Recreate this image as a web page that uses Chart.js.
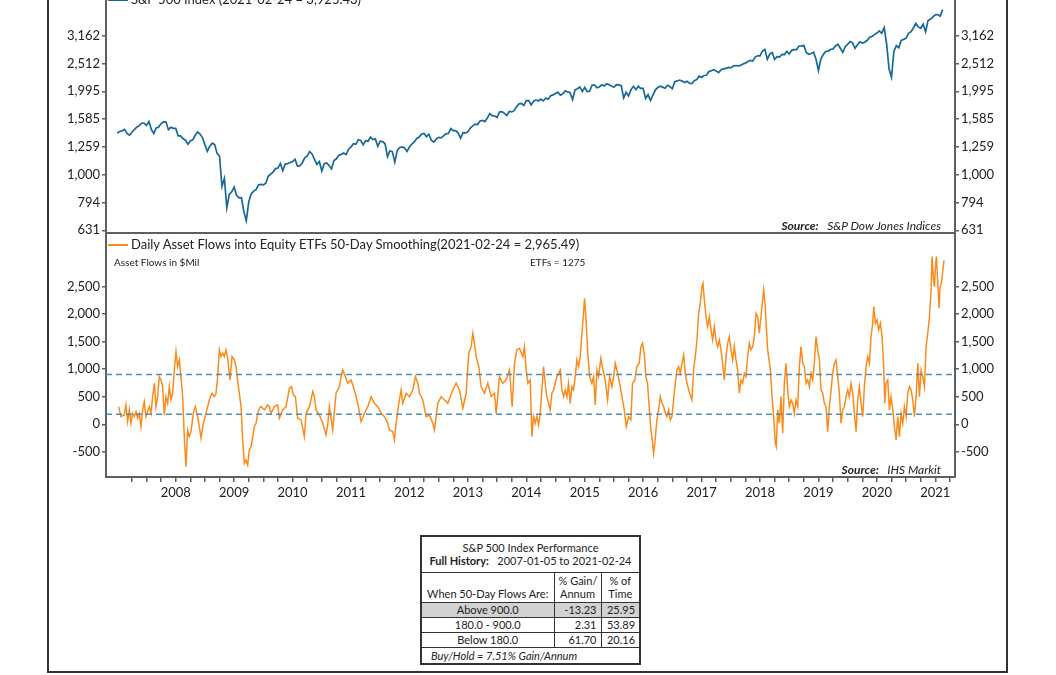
<!DOCTYPE html>
<html>
<head>
<meta charset="utf-8">
<script src="https://cdn.jsdelivr.net/npm/chart.js@4.4.1/dist/chart.umd.min.js"></script>
<style>
body{margin:0;width:1056px;height:675px;position:relative;overflow:hidden;background:#fff;font-family:Lato,sans-serif;color:#222}
.frame{position:absolute;left:47px;top:-20px;width:961px;height:693px;border:2px solid #333;box-sizing:border-box}
canvas{position:absolute;left:0}
.leg{position:absolute;left:108px;font-size:13px;line-height:16px;white-space:nowrap}
.leg i{display:inline-block;width:20px;height:2px;vertical-align:middle;margin:0 3px 2px 0}
.note{position:absolute;font-size:10px;line-height:13px;white-space:nowrap}
.src{position:absolute;right:115px;font-size:12px;line-height:14px;font-style:italic;white-space:nowrap}
#perf{position:absolute;left:420px;top:535px;width:219px;border-collapse:collapse;table-layout:fixed;font-size:11px;line-height:13px;color:#222;border:2px solid #333}
#perf td{border:1px solid #333;padding:0 4px;text-align:center;white-space:nowrap}
#perf td.n{text-align:right}
#perf tr.hi td{background:#d2d2d2}
#perf td.foot{text-align:left;font-style:italic;padding-left:9px}
</style>
</head>
<body>
<div class="frame"></div>
<canvas id="top" width="1056" height="249" style="top:-12px"></canvas>
<canvas id="bot" width="1056" height="284" style="top:233px"></canvas>

<div class="leg" style="top:-9px"><i style="background:#16699a"></i>S&amp;P 500 Index (2021-02-24 = 3,925.43)</div>
<div class="src" style="top:219px"><b>Source:</b>&nbsp;&nbsp; S&amp;P Dow Jones Indices</div>
<div class="leg" style="top:236px"><i style="background:#fb8c1c"></i>Daily Asset Flows into Equity ETFs 50-Day Smoothing(2021-02-24 = 2,965.49)</div>
<div class="note" style="left:114px;top:256px">Asset Flows in $Mil</div>
<div class="note" style="left:530px;top:256px">ETFs = 1275</div>
<div class="src" style="top:463px"><b>Source:</b>&nbsp;&nbsp; IHS Markit</div>

<table id="perf">
<colgroup><col style="width:133px"><col style="width:47px"><col style="width:39px"></colgroup>
<tbody id="perfBody"></tbody>
</table>

<script>
// S&P 500, one value every half month starting Jan 2007
const spStart = 2007.0
const spValues = [
1410,1431,1438,1456,1407,1387,1421,1453,1482,1501,1531,1533,1503,1552,1455,1406,1474,1484,1527,1548,1549,1452,1481,1468,
1468,1380,1379,1349,1331,1288,1323,1334,1386,1424,1400,1360,1280,1214,1267,1298,1283,1193,1165,908,969,760,850,868,
903,843,826,827,735,683,798,852,873,883,919,923,919,932,987,1004,1021,1052,1057,1096,1036,1093,1096,1107,
1115,1136,1074,1075,1104,1150,1169,1211,1187,1136,1089,1115,1031,1096,1102,1079,1049,1125,1141,1176,1183,1197,1181,1235,
1258,1293,1286,1336,1327,1281,1326,1320,1364,1337,1345,1266,1321,1316,1292,1160,1219,1209,1110,1224,1253,1258,1247,1212,
1258,1289,1312,1350,1366,1402,1408,1370,1398,1330,1310,1342,1362,1356,1379,1405,1407,1465,1441,1440,1412,1353,1416,1413,
1426,1472,1498,1520,1515,1561,1569,1553,1598,1658,1631,1626,1606,1682,1686,1662,1633,1688,1682,1699,1757,1798,1806,1775,
1848,1848,1783,1839,1859,1841,1872,1842,1884,1870,1924,1937,1960,1981,1931,1955,2003,1985,1972,1862,2018,2039,2068,1990,
2059,1992,1995,2097,2105,2053,2068,2106,2086,2123,2107,2084,2063,2108,2104,2092,1890,1978,1920,2023,2079,2023,2080,2043,
2044,1880,1940,1850,1932,2015,2060,2081,2065,2047,2097,2071,2040,2162,2174,2190,2171,2147,2168,2133,2126,2180,2199,2262,
2239,2274,2279,2349,2364,2385,2363,2329,2384,2402,2412,2432,2423,2459,2470,2464,2472,2500,2519,2553,2575,2565,2648,2676,
2674,2786,2824,2600,2714,2750,2600,2656,2648,2711,2705,2780,2718,2801,2816,2818,2902,2905,2914,2750,2712,2730,2760,2600,
2370,2610,2704,2775,2784,2822,2834,2905,2946,2850,2752,2886,2942,3014,2980,2848,2926,3007,2977,2995,3038,3120,3141,3191,
3231,3289,3226,3380,2954,2400,2240,2783,2912,2863,3044,3067,3100,3226,3271,3372,3500,3401,3363,3483,3270,3585,3622,3695,
3756,3768,3714,3925
]

// 50-day smoothed ETF flows ($Mil), dates as decimal years
const flowYears = [
2007.023,2007.063,2007.12,2007.148,2007.177,2007.206,2007.234,2007.263,2007.291,2007.32,2007.348,2007.377,2007.405,2007.434,2007.462,2007.491,2007.519,2007.548,2007.577,2007.605,2007.634,2007.662,2007.691,2007.719,2007.748,2007.776,2007.805,2007.833,2007.862,2007.891,2007.919,2007.948,2007.976,
2008.005,2008.033,2008.062,2008.09,2008.119,2008.147,2008.176,2008.204,2008.233,2008.262,2008.301,2008.336,2008.376,2008.404,2008.433,2008.473,2008.518,2008.575,2008.621,2008.661,2008.69,2008.718,2008.747,2008.775,2008.804,2008.832,2008.861,2008.889,2008.929,2008.964,
2009.004,2009.032,2009.061,2009.089,2009.118,2009.146,2009.175,2009.203,2009.232,2009.26,2009.289,2009.318,2009.346,2009.375,2009.403,2009.432,2009.46,2009.517,2009.574,2009.603,2009.631,2009.688,2009.746,2009.774,2009.831,2009.888,2009.945,2009.98,
2010.014,2010.048,2010.088,2010.145,2010.202,2010.231,2010.288,2010.345,2010.373,2010.402,2010.459,2010.516,2010.573,2010.602,2010.63,2010.687,2010.744,2010.802,2010.83,2010.859,2010.904,2010.944,
2011.001,2011.058,2011.115,2011.172,2011.23,2011.287,2011.344,2011.401,2011.458,2011.515,2011.572,2011.629,2011.658,2011.715,2011.743,2011.772,2011.818,2011.858,2011.886,2011.944,
2012.001,2012.058,2012.103,2012.143,2012.172,2012.229,2012.286,2012.343,2012.4,2012.428,2012.457,2012.486,2012.543,2012.6,2012.657,2012.742,2012.799,2012.856,2012.914,2012.971,
2013.016,2013.056,2013.085,2013.113,2013.142,2013.187,2013.227,2013.284,2013.341,2013.399,2013.456,2013.484,2013.541,2013.598,2013.655,2013.713,2013.758,2013.798,2013.838,2013.884,2013.941,2013.969,2013.998,
2014.027,2014.067,2014.096,2014.124,2014.153,2014.181,2014.21,2014.238,2014.267,2014.295,2014.324,2014.352,2014.381,2014.409,2014.438,2014.467,2014.495,2014.524,2014.552,2014.581,2014.609,2014.638,2014.666,2014.695,2014.723,2014.752,2014.781,2014.809,2014.838,2014.866,2014.895,2014.923,2014.952,2014.98,2014.997,
2015.02,2015.049,2015.083,2015.123,2015.152,2015.18,2015.209,2015.237,2015.277,2015.311,2015.351,2015.391,2015.426,2015.465,2015.494,2015.523,2015.563,2015.597,2015.637,2015.677,2015.711,2015.751,2015.79,2015.818,2015.858,2015.892,2015.932,2015.961,2015.989,
2016.018,2016.046,2016.075,2016.103,2016.132,2016.16,2016.178,2016.2,2016.235,2016.265,2016.293,2016.322,2016.35,2016.379,2016.407,2016.436,2016.464,2016.493,2016.521,2016.55,2016.578,2016.607,2016.636,2016.664,2016.693,2016.721,2016.75,2016.795,2016.835,2016.864,2016.892,2016.921,2016.949,2016.978,
2017.007,2017.024,2017.047,2017.075,2017.104,2017.132,2017.161,2017.189,2017.218,2017.246,2017.275,2017.303,2017.332,2017.36,2017.389,2017.418,2017.446,2017.475,2017.503,2017.532,2017.56,2017.589,2017.617,2017.646,2017.675,2017.703,2017.732,2017.76,2017.789,2017.817,2017.846,2017.874,2017.903,2017.931,2017.96,2017.988,
2018.017,2018.045,2018.063,2018.085,2018.108,2018.131,2018.154,2018.177,2018.205,2018.234,2018.262,2018.279,2018.302,2018.331,2018.359,2018.388,2018.416,2018.445,2018.474,2018.502,2018.531,2018.559,2018.588,2018.616,2018.645,2018.673,2018.702,2018.73,2018.759,2018.788,2018.816,2018.845,2018.873,2018.902,2018.93,2018.959,2018.987,
2019.016,2019.044,2019.073,2019.101,2019.13,2019.158,2019.187,2019.216,2019.244,2019.273,2019.301,2019.33,2019.358,2019.387,2019.415,2019.444,2019.472,2019.501,2019.529,2019.558,2019.587,2019.615,2019.644,2019.672,2019.701,2019.729,2019.758,2019.786,2019.815,2019.843,2019.872,2019.9,2019.929,2019.946,2019.975,
2020.003,2020.032,2020.06,2020.089,2020.117,2020.135,2020.157,2020.186,2020.214,2020.243,2020.272,2020.3,2020.329,2020.357,2020.386,2020.414,2020.443,2020.471,2020.5,2020.528,2020.557,2020.585,2020.614,2020.643,2020.671,2020.7,2020.728,2020.757,2020.785,2020.814,2020.842,2020.871,2020.9,2020.928,2020.945,2020.968,2020.985,
2021.002,2021.019,2021.042,2021.065,2021.082,2021.105,2021.148
]
const flowValues = [
320,139,169,350,48,260,18,199,139,230,109,199,-42,260,411,139,230,320,199,501,743,320,501,864,803,683,169,501,380,683,441,562,985,
1317,1045,1166,864,501,-223,-767,-103,-223,-133,199,320,139,-42,-254,18,199,441,562,501,562,864,1347,1226,1287,1226,1347,1196,803,1226,
1166,1045,773,562,320,-284,-707,-646,-737,-465,-405,-223,-42,18,199,290,320,260,350,320,199,320,350,109,260,320,652,683,
532,501,109,79,-223,199,320,592,501,260,169,18,-193,-12,320,-103,562,683,864,985,864,743,
803,622,380,48,199,320,501,380,320,199,139,18,-103,-133,-284,18,380,622,380,562,
501,622,864,743,562,441,139,169,18,-103,139,380,501,441,380,622,743,622,290,562,
1287,1407,1649,1468,1226,1045,683,562,743,501,562,199,864,743,803,985,320,1105,1347,1377,1226,1407,985,
743,803,-223,139,18,139,-12,199,622,1045,743,501,380,260,562,622,743,864,924,985,622,501,622,501,743,380,683,622,864,1166,1045,1226,1649,2011,2283,
1951,1347,864,743,864,350,985,864,1196,985,803,441,864,683,864,1105,924,743,501,260,-42,139,79,743,803,1045,1105,1407,1468,
1287,864,743,320,-103,-314,-525,-344,79,260,501,380,320,199,139,260,79,139,441,743,985,1045,924,1105,1256,924,743,562,441,985,1226,1528,2011,2192,
2494,2555,2253,1951,1770,1951,1709,1528,1770,1528,1407,1528,1347,1105,803,1226,1468,1588,1347,1166,1407,1166,985,562,803,743,924,864,1226,1468,1347,1407,1588,2011,1951,1649,
1951,2253,2434,2192,1770,1347,1166,985,501,139,-344,-405,260,18,501,-163,743,1105,622,320,441,380,199,441,320,1045,1407,1105,1045,743,803,683,924,803,1105,1588,1347,
1166,622,562,380,320,-133,320,622,924,1105,1166,864,562,18,260,320,501,622,501,743,562,199,-133,441,683,380,139,683,1045,1226,1105,1588,1830,2132,1830,
1891,1709,1830,1588,1045,380,743,803,260,501,260,-42,-284,139,-223,199,18,320,139,562,683,622,441,139,501,1105,501,985,864,683,1407,1649,1951,2434,3038,2615,2494,
2857,3038,2555,2102,2494,2555,2965
]

const thresholds = [900, 180]
const spTicks = [631, 794, 1000, 1259, 1585, 1995, 2512, 3162]
const flowTicks = [-500, 0, 500, 1000, 1500, 2000, 2500]
const yearLabels = [2008, 2009, 2010, 2011, 2012, 2013, 2014, 2015, 2016, 2017, 2018, 2019, 2020, 2021]

const flowBands = ['Above 900.0', '180.0 - 900.0', 'Below 180.0']
const gainPerAnnum = ['-13.23', '2.31', '61.70']
const pctOfTime = ['25.95', '53.89', '20.16']

const xMin = 2006.807, xMax = 2021.337
const axisColor = '#5f5f5f'
Chart.defaults.font.family = 'Lato'
Chart.defaults.font.size = 13
Chart.defaults.color = '#222'

// quarterly tick marks, labels only on years
var quarterTicks = []
for (var yr = 2007; yr <= 2021; yr++) {
    for (var q = 0; q < 4; q++) {
        var t = yr + q * 0.25
        if (t >= 2007.25 && t <= xMax) quarterTicks.push(t)
    }
}

function fixed(w, h) {
    return function (s) {
        if (w !== null) s.width = w
        if (h !== null) s.height = h
        s.paddingTop = 0; s.paddingBottom = 0; s.paddingLeft = 0; s.paddingRight = 0
    }
}

function yScale(pos, type, min, max, ticks, width) {
    return {
        type: type, position: pos, min: min, max: max,
        afterBuildTicks: s => { s.ticks = ticks.map(v => ({ value: v })) },
        afterFit: fixed(width, null),
        ticks: { autoSkip: false, padding: 2, color: '#222', callback: v => Number(v).toLocaleString('en-US') },
        grid: { drawOnChartArea: false, tickLength: 4, color: axisColor, lineWidth: 1.5 },
        border: { color: axisColor, width: 2 }
    }
}

const common = {
    responsive: false, animation: false, events: [],
    layout: { padding: 0 },
    plugins: { legend: { display: false }, tooltip: { enabled: false } }
}

new Chart(document.getElementById('top'), {
    type: 'line',
    data: {
        datasets: [{
            data: spValues.map((v, i) => ({ x: spStart + i / 24, y: v })),
            borderColor: '#16699a', borderWidth: 1.7, pointRadius: 0, yAxisID: 'y'
        }]
    },
    options: Object.assign({}, common, {
        scales: {
            x: {
                type: 'linear', min: xMin, max: xMax,
                afterFit: fixed(null, 4),
                ticks: { display: false },
                grid: { display: false },
                border: { color: axisColor, width: 2 }
            },
            y: yScale('left', 'logarithmic', 617, 4694, spTicks, 106),
            y2: yScale('right', 'logarithmic', 617, 4694, spTicks, 101)
        }
    })
})

var flowSets = thresholds.map(v => ({
    data: [{ x: xMin, y: v }, { x: xMax, y: v }],
    borderColor: '#4f8fb7', borderWidth: 1.5, borderDash: [6, 4], pointRadius: 0, yAxisID: 'y'
}))
flowSets.push({
    data: flowYears.map((t, i) => ({ x: t, y: flowValues[i] })),
    borderColor: '#fb8c1c', borderWidth: 1.5, pointRadius: 0, yAxisID: 'y'
})

new Chart(document.getElementById('bot'), {
    type: 'line',
    data: { datasets: flowSets },
    options: Object.assign({}, common, {
        scales: {
            x: {
                type: 'linear', min: xMin, max: xMax,
                afterBuildTicks: s => { s.ticks = quarterTicks.map(v => ({ value: v })) },
                afterFit: fixed(null, 40),
                ticks: { autoSkip: false, maxRotation: 0, padding: 3, color: '#222',
                    callback: v => yearLabels.includes(v) ? String(v) : '' },
                grid: { drawOnChartArea: false, tickLength: 5, color: axisColor, lineWidth: 1.5 },
                border: { color: axisColor, width: 2 }
            },
            y: yScale('left', 'linear', -955, 3466, flowTicks, 106),
            y2: yScale('right', 'linear', -955, 3466, flowTicks, 101)
        }
    })
})

// performance table
var body = document.getElementById('perfBody')
var html = '<tr style="height:36px"><td colspan="3">S&amp;P 500 Index Performance<br><b>Full History:</b>&nbsp;&nbsp; 2007-01-05 to 2021-02-24</td></tr>'
html += '<tr style="height:30px"><td style="vertical-align:bottom;padding-bottom:2px">When 50-Day Flows Are:</td><td>% Gain/<br>Annum</td><td>% of<br>Time</td></tr>'
for (var i = 0; i < flowBands.length; i++) {
    html += '<tr' + (i == 0 ? ' class="hi"' : '') + ' style="height:15px"><td>' + flowBands[i] + '</td><td class="n">' + gainPerAnnum[i] + '</td><td class="n">' + pctOfTime[i] + '</td></tr>'
}
html += '<tr style="height:17px"><td colspan="3" class="foot">Buy/Hold = 7.51% Gain/Annum</td></tr>'
body.innerHTML = html
</script>
</body>
</html>
